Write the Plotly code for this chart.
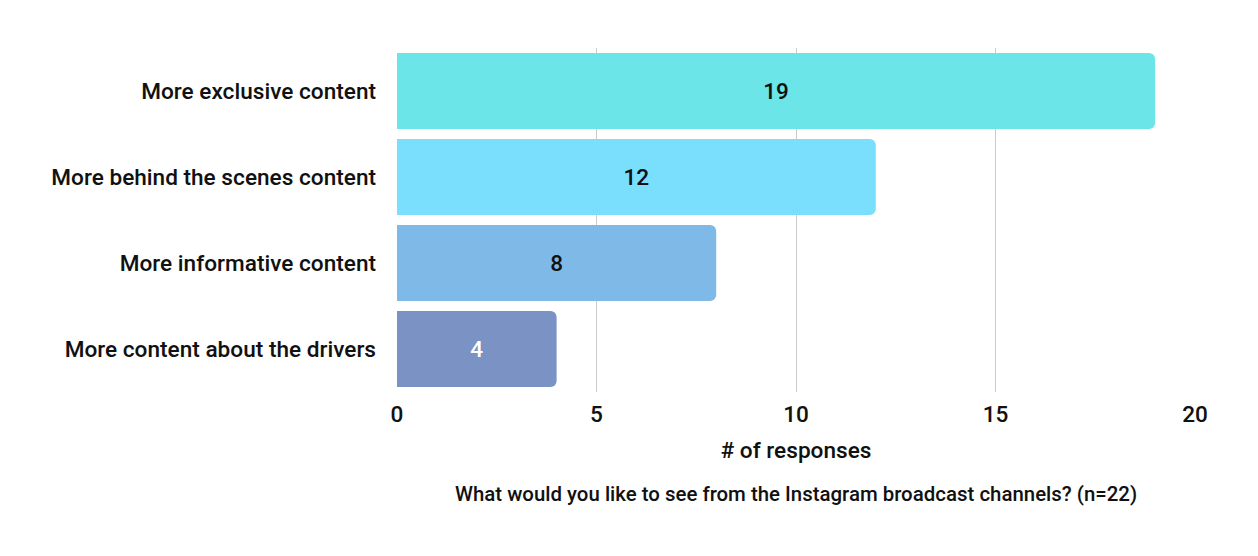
import plotly.graph_objects as go

categories = ["More exclusive content", "More behind the scenes content",
              "More informative content", "More content about the drivers"]
values = [19, 12, 8, 4]
bar_colors = ["#6be5e8", "#7adffd", "#7eb9e7", "#7a92c4"]
label_colors = ["#111111", "#111111", "#111111", "#ffffff"]
x_ticks = [0, 5, 10, 15, 20]
x_title = "# of responses"
caption = "What would you like to see from the Instagram broadcast channels? (n=22)"

FONT = "Roboto Medium, Roboto"
SZ = 22.6
W = 400

fig = go.Figure(go.Bar(
    y=categories, x=values, orientation="h",
    marker=dict(color=bar_colors, line=dict(width=0), cornerradius=6),
    text=[str(v) for v in values], textposition="inside", insidetextanchor="middle",
    textfont=dict(family=FONT, size=SZ, color=label_colors, weight=W),
    hoverinfo="skip",
))

fig.update_layout(
    width=1258, height=556,
    margin=dict(l=397, r=63, t=48, b=164),
    paper_bgcolor="white", plot_bgcolor="white",
    bargap=0.116,
    showlegend=False,
    font=dict(family=FONT, color="#111111"),
    xaxis=dict(range=[0, 20], tickvals=x_ticks, showgrid=True, gridcolor="#cccccc", gridwidth=1,
               zeroline=False, showline=False, ticks="", ticklabelstandoff=6,
               tickfont=dict(family=FONT, size=SZ, color="#111111", weight=W),
               title=dict(text=x_title, font=dict(family=FONT, size=SZ, color="#111111", weight=W), standoff=15)),
    yaxis=dict(autorange="reversed", showgrid=False, zeroline=False, showline=False, ticks="",
               ticklabelstandoff=20,
               tickfont=dict(family=FONT, size=SZ, color="#111111", weight=W)),
    annotations=[dict(text=caption, xref="paper", yref="paper", x=0.5, y=-0.297, xanchor="center",
                      yanchor="middle", showarrow=False,
                      font=dict(family=FONT, size=20.4, color="#111111", weight=W))],
)

fig.write_html("out.html", config={"displayModeBar": False},
               post_script="document.body.style.margin='0';document.body.style.padding='0';")
